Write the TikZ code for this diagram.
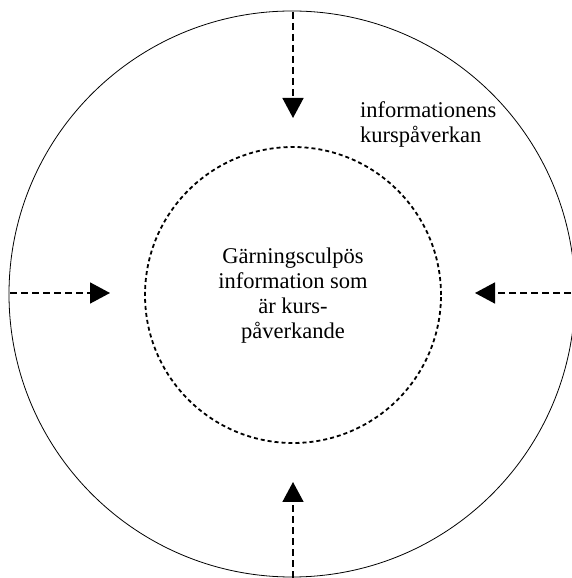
\documentclass[tikz,border=0pt]{standalone}
\usepackage{fontspec}
\setmainfont{Liberation Serif}
\usetikzlibrary{arrows.meta}

\tikzset{
  ring/.style={circle, draw, line width=0.8pt, inner sep=0pt},
  dotring/.style={circle, draw, line width=1.8pt, dash pattern=on 4pt off 3pt, inner sep=0pt},
  flow/.style={line width=1.6pt, dash pattern=on 7pt off 4pt,
    -{Triangle[length=20pt, width=21pt]}},
  label/.style={inner sep=0pt, font=\fontsize{22.5}{25}\selectfont}
}

\begin{document}
\begin{tikzpicture}[x=1pt, y=1pt]
  \useasboundingbox (0,0) rectangle (571,578);

  % outer and inner circles
  \node[ring, minimum size=566pt] (outer) at (292,284) {};
  \node[dotring, minimum size=296pt] (inner) at (293,283) {};

  % text
  \node[label, align=center] (core) at (293,282.7)
    {Gärningsculpös\\information som\\är kurs-\\påverkande};
  \node[label, align=left, anchor=west] (influence) at (360,453.7)
    {informationens\\kurspåverkan};

  % arrow ends
  \coordinate (topS) at (293,566);
  \coordinate (topT) at (293,460);
  \coordinate (botS) at (293,0);
  \coordinate (botT) at (293,96);
  \coordinate (lefS) at (10,285);
  \coordinate (lefT) at (110,285);
  \coordinate (rigS) at (571,285);
  \coordinate (rigT) at (475,285);

  % inward arrows
  \draw[flow] (topS) -- (topT);
  \draw[flow] (botS) -- (botT);
  \draw[flow] (lefS) -- (lefT);
  \draw[flow] (rigS) -- (rigT);
\end{tikzpicture}
\end{document}
